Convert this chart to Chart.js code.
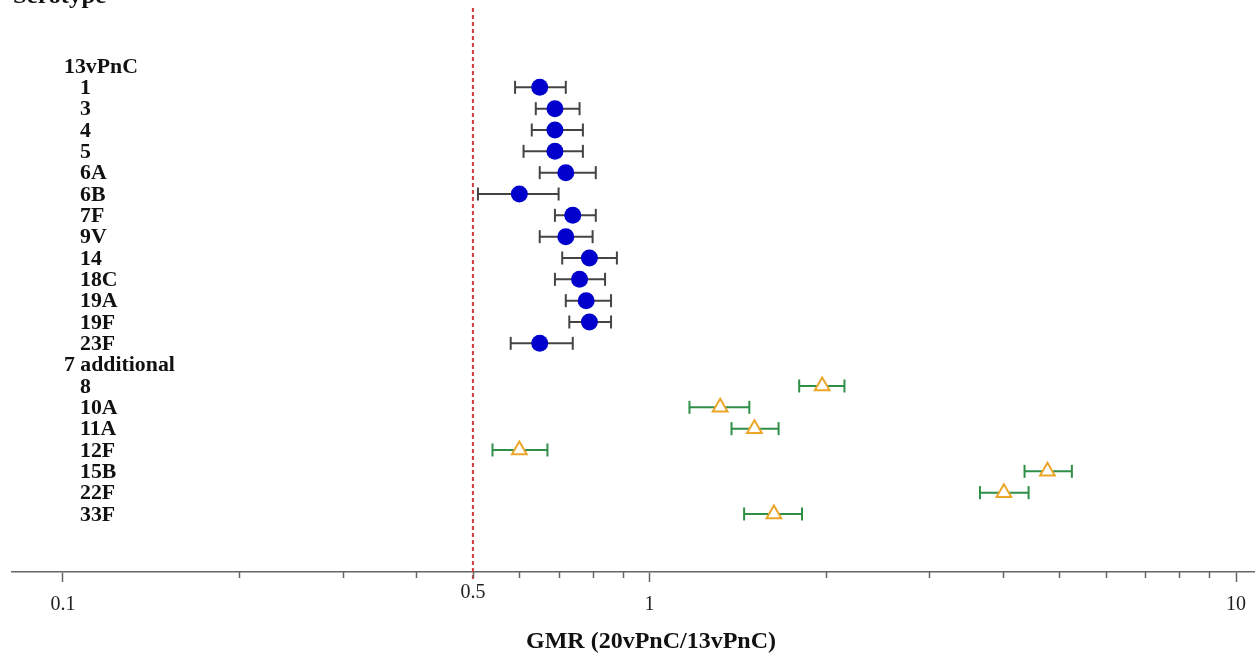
<!DOCTYPE html>
<html><head><meta charset="utf-8">
<script src="https://cdn.jsdelivr.net/npm/chart.js@4"></script>
<style>html,body{margin:0;padding:0;background:#fff}#wrap{width:1257px;height:660px;position:relative}</style>
</head><body><div id="wrap"><canvas id="c"></canvas></div>
<script>
const yTitle = 'Serotype';
const xTitle = 'GMR (20vPnC/13vPnC)';
const group1Label = '13vPnC';
const group2Label = '7 additional';
const serotypes13 = ['1','3','4','5','6A','6B','7F','9V','14','18C','19A','19F','23F'];
const gmr13 = [0.65, 0.69, 0.69, 0.69, 0.72, 0.60, 0.74, 0.72, 0.79, 0.76, 0.78, 0.79, 0.65];
const lo13  = [0.59, 0.64, 0.63, 0.61, 0.65, 0.51, 0.69, 0.65, 0.71, 0.69, 0.72, 0.73, 0.58];
const hi13  = [0.72, 0.76, 0.77, 0.77, 0.81, 0.70, 0.81, 0.80, 0.88, 0.84, 0.86, 0.86, 0.74];
const serotypes7 = ['8','10A','11A','12F','15B','22F','33F'];
const gmr7 = [1.97, 1.32, 1.51, 0.60, 4.77, 4.02, 1.63];
const lo7  = [1.80, 1.17, 1.38, 0.54, 4.36, 3.66, 1.45];
const hi7  = [2.15, 1.48, 1.66, 0.67, 5.25, 4.43, 1.82];
const tickValues = [0.1,0.2,0.3,0.4,0.5,0.6,0.7,0.8,0.9,1,2,3,4,5,6,7,8,9,10];
const labeledTicks = [0.1, 1, 10];
const refValue = 0.5;

// build row layout (row index = order in list)
const rowLabels = [];
let r = 0;
rowLabels.push({text: group1Label, header: true, y: r++});
const rows13 = serotypes13.map(s => { rowLabels.push({text: s, header: false, y: r}); return r++; });
rowLabels.push({text: group2Label, header: true, y: r++});
const rows7 = serotypes7.map(s => { rowLabels.push({text: s, header: false, y: r}); return r++; });

const FONT = '"Liberation Serif", "Times New Roman", serif';
const BLUE = '#0000cc', GREY = '#444444', GREEN = '#2f8f46', ORANGE = '#eba62a', RED = '#d8393b';

const datasets = [];
datasets.push({
  type: 'scatter', label: '13vPnC', order: 0,
  data: gmr13.map((v, i) => ({x: v, y: rows13[i]})),
  pointStyle: 'circle', pointRadius: 8.5, backgroundColor: BLUE, borderColor: BLUE, borderWidth: 0
});
datasets.push({
  type: 'scatter', label: '7 additional', order: 0,
  data: gmr7.map((v, i) => ({x: v, y: rows7[i]})),
  pointStyle: 'triangle', pointRadius: 8.5, backgroundColor: '#ffffff', borderColor: ORANGE, borderWidth: 2
});
function errBar(lo, hi, y, col) {
  return {
    type: 'line', order: 1,
    data: [{x: lo, y: y}, {x: hi, y: y}],
    borderColor: col, borderWidth: 2, pointStyle: 'line', pointRotation: 90,
    pointRadius: 6.5, pointBorderColor: col, pointBorderWidth: 2, pointBackgroundColor: col
  };
}
gmr13.forEach((v, i) => datasets.push(errBar(lo13[i], hi13[i], rows13[i], GREY)));
gmr7.forEach((v, i) => datasets.push(errBar(lo7[i], hi7[i], rows7[i], GREEN)));
datasets.push({
  type: 'line', order: 2, clip: false,
  data: [{x: refValue, y: -2.72}, {x: refValue, y: 24.1}],
  borderColor: RED, borderWidth: 2, borderDash: [4, 3], pointRadius: 0
});

function wideText(ctx, text, x, y, sx) {
  ctx.save(); ctx.translate(x, y); ctx.scale(sx, 1); ctx.fillText(text, 0, 0); ctx.restore();
}

const decor = {
  id: 'decor',
  afterDraw(chart) {
    const ctx = chart.ctx, xs = chart.scales.x, ys = chart.scales.y, ca = chart.chartArea;
    ctx.save();
    // minor ticks
    ctx.strokeStyle = '#666'; ctx.lineWidth = 1.5;
    tickValues.forEach(v => {
      if (labeledTicks.includes(v)) return;
      const px = Math.round(xs.getPixelForValue(v)) + 0.5;
      ctx.beginPath(); ctx.moveTo(px, ca.bottom); ctx.lineTo(px, ca.bottom + 6); ctx.stroke();
    });
    // reference label
    ctx.fillStyle = '#222'; ctx.font = '20px ' + FONT;
    ctx.textAlign = 'center'; ctx.textBaseline = 'middle';
    ctx.fillText(String(refValue), xs.getPixelForValue(refValue), 593);
    // axis title
    ctx.font = 'bold 24px ' + FONT; ctx.fillStyle = '#111';
    ctx.fillText(xTitle, 651, 642);
    // y title
    ctx.textAlign = 'left'; ctx.textBaseline = 'alphabetic';
    ctx.font = 'bold 23px ' + FONT;
    wideText(ctx, yTitle, 13, 3, 1.08);
    // row labels
    ctx.font = 'bold 20px ' + FONT; ctx.textBaseline = 'middle';
    rowLabels.forEach(o => {
      wideText(ctx, o.text, o.header ? 64 : 80, ys.getPixelForValue(o.y) + 1.5, 1.09);
    });
    ctx.restore();
  }
};

new Chart(document.getElementById('c'), {
  data: { datasets },
  options: {
    responsive: true, maintainAspectRatio: false, animation: false,
    layout: { padding: { left: 12, right: 0, top: 0, bottom: 0 }, autoPadding: false },
    plugins: { legend: { display: false }, tooltip: { enabled: false } },
    scales: {
      x: {
        type: 'logarithmic', min: 0.08188, max: 10.773, position: 'bottom',
        afterBuildTicks: s => { s.ticks = tickValues.map(v => ({value: v})); },
        afterFit: s => { s.height = 88; },
        border: { display: true, color: '#666', width: 1.5 },
        grid: {
          drawOnChartArea: false, drawTicks: true, tickLength: 10,
          tickColor: c => (c.tick && labeledTicks.includes(c.tick.value)) ? '#666' : 'rgba(0,0,0,0)',
          tickWidth: 1.5
        },
        ticks: {
          autoSkip: false, maxRotation: 0, padding: 11, color: '#222',
          font: { family: FONT, size: 20 },
          callback: v => labeledTicks.includes(v) ? String(v) : ''
        }
      },
      y: { type: 'linear', display: false, reverse: true, min: -3.094, max: 23.72 }
    }
  },
  plugins: [decor]
});
</script></body></html>
